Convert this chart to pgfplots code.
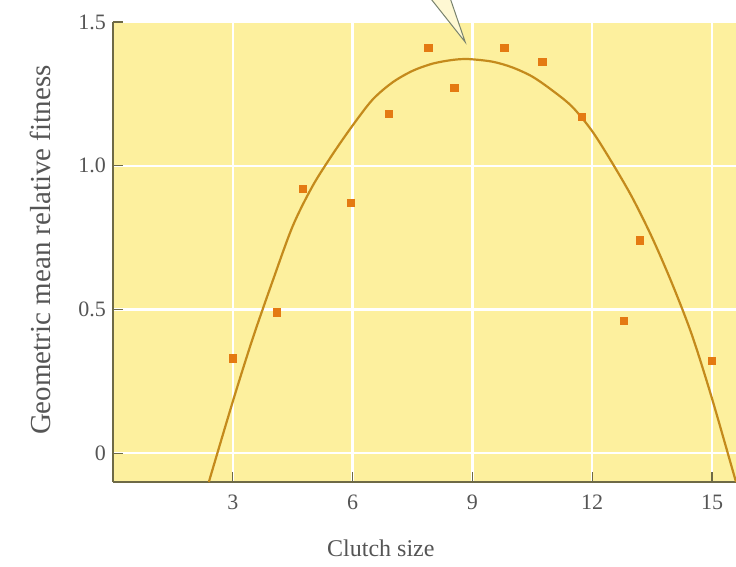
\documentclass[border=0pt]{standalone}
\usepackage{pgfplots}
\pgfplotsset{compat=1.18}
\usepackage{fontspec}
\setmainfont{Liberation Serif}

\definecolor{bgyellow}{RGB}{253,240,158}
\definecolor{curvecol}{RGB}{196,138,28}
\definecolor{dotcol}{RGB}{228,122,18}
\definecolor{axiscol}{RGB}{110,106,70}
\definecolor{textcol}{RGB}{85,85,85}
\definecolor{calloutcol}{RGB}{120,130,110}

\begin{document}
\begin{tikzpicture}
\useasboundingbox (-56.5pt,-42.5pt) rectangle (311.5pt,241pt);
\begin{axis}[
    at={(0,0)}, anchor=south west,
    scale only axis,
    width=311.5pt, height=230pt,
    xmin=0, xmax=15.6,
    ymin=-0.1, ymax=1.5,
    axis x line*=bottom,
    axis y line*=left,
    axis line style={axiscol, line width=1pt},
    axis background/.style={fill=bgyellow},
    xtick={3,6,9,12,15},
    ytick={0,0.5,1.0,1.5},
    yticklabels={0,0.5,1.0,1.5},
    tick align=inside,
    major tick length=5pt,
    tick style={axiscol, line width=0.6pt},
    grid=major,
    major grid style={white, line width=1.2pt},
    /pgf/number format/assume math mode=true,
    ticklabel style={font=\fontsize{11}{13}\selectfont, text=textcol},
    xticklabel style={yshift=-3pt},
    xlabel={Clutch size},
    ylabel={Geometric mean relative fitness},
    xlabel style={at={(axis description cs:0.43,0)}, anchor=center, yshift=-33pt,
        font=\fontsize{12}{14}\selectfont, text=textcol},
    ylabel style={at={(axis description cs:-0.117,0.504)}, anchor=center,
        font=\fontsize{14.5}{16}\selectfont, text=textcol},
    clip=false,
]
% fitted curve
\addplot[curvecol, line width=1.1pt, smooth] coordinates {
    (2.40,-0.10) (3.0,0.18) (3.5,0.40) (4.0,0.60) (4.5,0.79)
    (5.0,0.93) (5.5,1.04) (6.0,1.14) (6.5,1.23) (7.0,1.29)
    (7.5,1.33) (8.0,1.355) (8.5,1.368) (8.9,1.371) (9.5,1.362)
    (10.0,1.342) (10.5,1.31) (11.0,1.262) (11.5,1.205) (12.0,1.12)
    (12.5,1.01) (13.0,0.89) (13.5,0.75) (14.0,0.59) (14.5,0.41)
    (15.0,0.19) (15.6,-0.10)
};
% observed clutches
\addplot[only marks, mark=square*, mark size=1.8pt, color=dotcol] coordinates {
    (3.0,0.33) (4.1,0.49) (4.75,0.92) (5.95,0.87) (6.9,1.18)
    (7.9,1.41) (8.55,1.27) (9.8,1.41) (10.75,1.36) (11.75,1.17)
    (12.8,0.46) (13.2,0.74) (15.0,0.32)
};
% callout pointer at the optimum
\draw[calloutcol, line width=0.5pt, fill=white!55!bgyellow]
    (axis cs:7.85,1.60) -- (axis cs:8.82,1.43) -- (axis cs:8.40,1.60);
\end{axis}
\end{tikzpicture}
\end{document}
